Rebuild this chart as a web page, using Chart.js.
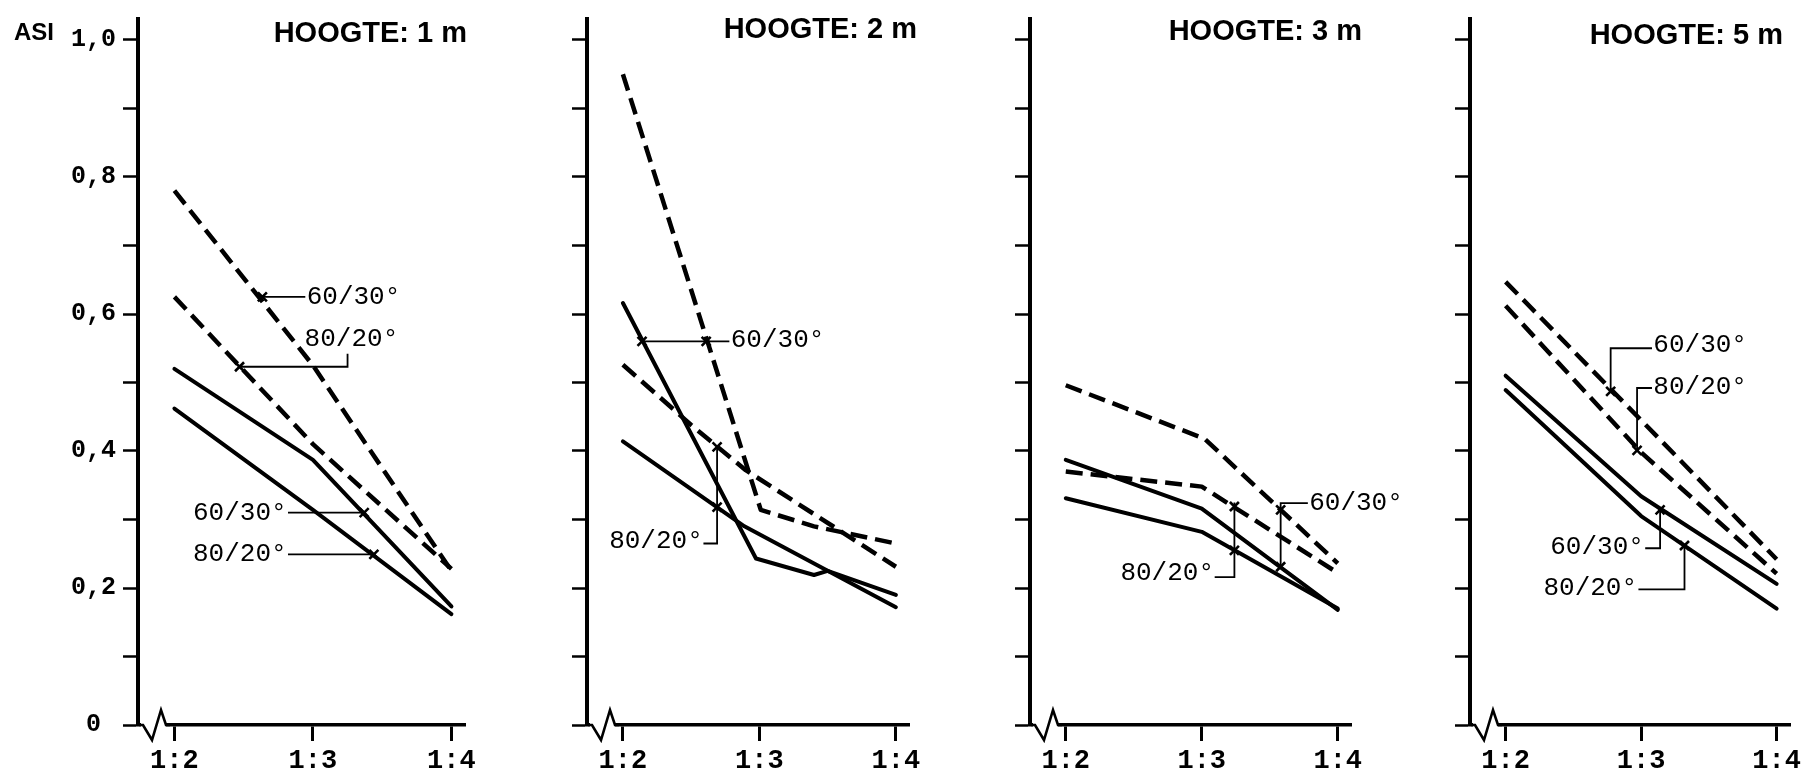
<!DOCTYPE html>
<html>
<head>
<meta charset="utf-8">
<script src="https://cdn.jsdelivr.net/npm/chart.js@4.4.1/dist/chart.umd.min.js"></script>
<style>
  html, body { margin: 0; padding: 0; background: #fff; overflow: hidden; width: 1804px; height: 776px; }
  #wrap { position: relative; width: 1804px; height: 776px; }
  #wrap canvas { position: absolute; top: 0; }
</style>
</head>
<body>
<div id="wrap"></div>
<script>
// --- gegevens (x: 2 = 1:2, 3 = 1:3, 4 = 1:4 ; y: ASI) ---
const ratioValues = [2, 3, 4];
const ratioLabels = ['1:2', '1:3', '1:4'];
const asiTicks = [0, 0.1, 0.2, 0.3, 0.4, 0.5, 0.6, 0.7, 0.8, 0.9, 1.0];
const asiLabelValues = [0, 0.2, 0.4, 0.6, 0.8, 1.0];
const asiLabels = ['0', '0,2', '0,4', '0,6', '0,8', '1,0'];
const heightTitles = ['HOOGTE: 1 m', 'HOOGTE: 2 m', 'HOOGTE: 3 m', 'HOOGTE: 5 m'];

// hoogte 1 m
const h1Dash6030 = [[2, 0.78], [3, 0.525], [4, 0.225]];
const h1Dash8020 = [[2, 0.625], [3, 0.41], [4, 0.228]];
const h1Solid6030 = [[2, 0.52], [3, 0.387], [4, 0.173]];
const h1Solid8020 = [[2, 0.462], [3, 0.314], [4, 0.162]];

// hoogte 2 m
const h2Dash6030 = [[2, 0.95], [2.91, 0.377], [3.01, 0.314], [3.4, 0.29], [4, 0.265]];
const h2Dash8020 = [[2, 0.526], [2.5, 0.438], [2.9, 0.372], [4, 0.231]];
const h2Solid6030 = [[2, 0.616], [2.975, 0.243], [3.4, 0.219], [3.5, 0.225], [4, 0.19]];
const h2Solid8020 = [[2, 0.414], [2.89, 0.29], [4, 0.172]];

// hoogte 3 m
const h3Dash6030 = [[2, 0.496], [3.02, 0.418], [4, 0.236]];
const h3Dash8020 = [[2, 0.37], [3, 0.348], [4, 0.222]];
const h3Solid6030 = [[2, 0.387], [3, 0.316], [4, 0.168]];
const h3Solid8020 = [[2, 0.331], [3, 0.282], [4, 0.17]];

// hoogte 5 m
const h5Dash6030 = [[2, 0.647], [3, 0.445], [4, 0.242]];
const h5Dash8020 = [[2, 0.612], [3, 0.398], [4, 0.221]];
const h5Solid6030 = [[2, 0.51], [3, 0.334], [4, 0.206]];
const h5Solid8020 = [[2, 0.489], [3, 0.305], [4, 0.17]];

// labels met verwijslijnen (in grafiekcoordinaten)
const h1Notes = [
  { text: '60/30°', at: [2.955, 0.625], align: 'left', path: [[2.635, 0.625], [2.945, 0.625]], marks: [[2.635, 0.625]] },
  { text: '80/20°', at: [2.94, 0.563], align: 'left', path: [[2.47, 0.523], [3.25, 0.523], [3.25, 0.542]], marks: [[2.47, 0.523]] },
  { text: '60/30°', at: [2.81, 0.31], align: 'right', path: [[2.82, 0.31], [3.37, 0.31]], marks: [[3.37, 0.31]] },
  { text: '80/20°', at: [2.81, 0.249], align: 'right', path: [[2.82, 0.249], [3.44, 0.249]], marks: [[3.44, 0.249]] }
];
const h2Notes = [
  { text: '60/30°', at: [2.79, 0.562], align: 'left', path: [[2.14, 0.56], [2.78, 0.56]], marks: [[2.14, 0.56], [2.61, 0.56]] },
  { text: '80/20°', at: [2.585, 0.268], align: 'right', path: [[2.59, 0.265], [2.69, 0.265], [2.69, 0.406]], marks: [[2.69, 0.318], [2.69, 0.406]] }
];
const h3Notes = [
  { text: '60/30°', at: [3.79, 0.324], align: 'left', path: [[3.58, 0.228], [3.58, 0.324], [3.78, 0.324]], marks: [[3.58, 0.314], [3.58, 0.231]] },
  { text: '80/20°', at: [3.09, 0.222], align: 'right', path: [[3.095, 0.216], [3.24, 0.216], [3.24, 0.325]], marks: [[3.24, 0.319], [3.24, 0.255]] }
];
const h5Notes = [
  { text: '60/30°', at: [3.09, 0.555], align: 'left', path: [[2.775, 0.487], [2.775, 0.55], [3.08, 0.55]], marks: [[2.775, 0.487]] },
  { text: '80/20°', at: [3.09, 0.494], align: 'left', path: [[2.97, 0.401], [2.97, 0.492], [3.08, 0.492]], marks: [[2.97, 0.401]] },
  { text: '60/30°', at: [3.02, 0.26], align: 'right', path: [[3.03, 0.258], [3.14, 0.258], [3.14, 0.314]], marks: [[3.14, 0.314]] },
  { text: '80/20°', at: [2.97, 0.2], align: 'right', path: [[2.98, 0.198], [3.32, 0.198], [3.32, 0.262]], marks: [[3.32, 0.262]] }
];

// --- opmaak ---
const MONO = '"Liberation Mono", "Courier New", monospace';
const SANS = '"Liberation Sans", Arial, sans-serif';
const xMin = 1.737, xMax = 4.1, yMax = 1.03;
const pxPerAsi = 685;
const axisBottom = 725;
const H = 776;

const panels = [
  { series: [h1Dash6030, h1Dash8020, h1Solid6030, h1Solid8020], notes: h1Notes, axisX: 138, unit: 138.5, yW: 138, extra: 30, titleRight: 467, titleBase: 42, first: true },
  { series: [h2Dash6030, h2Dash8020, h2Solid6030, h2Solid8020], notes: h2Notes, axisX: 587, unit: 136.5, yW: 40, extra: 30, titleRight: 917, titleBase: 38 },
  { series: [h3Dash6030, h3Dash8020, h3Solid6030, h3Solid8020], notes: h3Notes, axisX: 1030, unit: 136, yW: 40, extra: 70, titleRight: 1362, titleBase: 40 },
  { series: [h5Dash6030, h5Dash8020, h5Solid6030, h5Solid8020], notes: h5Notes, axisX: 1470, unit: 135.5, yW: 40, extra: 40, titleRight: 1783, titleBase: 44 }
];

function decorPlugin(p, idx, canvasLeft) {
  return {
    id: 'decor' + idx,
    afterDraw(chart) {
      const { ctx, chartArea: a, scales } = chart;
      const X = c => scales.x.getPixelForValue(c);
      const Y = v => scales.y.getPixelForValue(v);
      ctx.save();

      // asbreuk bij de oorsprong
      ctx.strokeStyle = '#fff';
      ctx.lineWidth = 6;
      ctx.beginPath();
      ctx.moveTo(a.left + 3, a.bottom);
      ctx.lineTo(a.left + 28, a.bottom);
      ctx.stroke();
      ctx.strokeStyle = '#000';
      ctx.lineWidth = 2.6;
      ctx.lineJoin = 'miter';
      ctx.beginPath();
      ctx.moveTo(a.left + 1, a.bottom);
      ctx.lineTo(a.left + 5, a.bottom);
      ctx.lineTo(a.left + 14, a.bottom + 15);
      ctx.lineTo(a.left + 23, a.bottom - 15);
      ctx.lineTo(a.left + 28, a.bottom);
      ctx.lineTo(a.left + 32, a.bottom);
      ctx.stroke();

      // verwijslijnen, kruisjes en labels
      p.notes.forEach(n => {
        ctx.lineWidth = 1.8;
        ctx.lineJoin = 'miter';
        ctx.beginPath();
        n.path.forEach(([c, v], k) => k ? ctx.lineTo(X(c), Y(v)) : ctx.moveTo(X(c), Y(v)));
        ctx.stroke();
        ctx.lineWidth = 2.6;
        n.marks.forEach(([c, v]) => {
          const px = X(c), py = Y(v), s = 4.5;
          ctx.beginPath();
          ctx.moveTo(px - s, py - s); ctx.lineTo(px + s, py + s);
          ctx.moveTo(px + s, py - s); ctx.lineTo(px - s, py + s);
          ctx.stroke();
        });
        ctx.fillStyle = '#000';
        ctx.font = '26px ' + MONO;
        ctx.textAlign = n.align;
        ctx.textBaseline = 'middle';
        ctx.fillText(n.text, X(n.at[0]), Y(n.at[1]));
      });

      // titel
      ctx.fillStyle = '#000';
      ctx.font = 'bold 29px ' + SANS;
      ctx.textAlign = 'right';
      ctx.textBaseline = 'alphabetic';
      ctx.fillText(heightTitles[idx], p.titleRight - canvasLeft, p.titleBase);
      if (p.first) {
        ctx.font = 'bold 24px ' + SANS;
        ctx.textAlign = 'left';
        ctx.fillText('ASI', 14, 40);
      }
      ctx.restore();
    }
  };
}

const wrap = document.getElementById('wrap');

panels.forEach((p, idx) => {
  const chartW = (xMax - xMin) * p.unit;
  const left = p.axisX - p.yW;
  const width = Math.min(Math.ceil(p.yW + chartW + p.extra), 1804 - left);
  const padRight = width - p.yW - chartW;
  const padTop = axisBottom - yMax * pxPerAsi;

  const canvas = document.createElement('canvas');
  canvas.width = width;
  canvas.height = H;
  canvas.style.left = left + 'px';
  canvas.style.width = width + 'px';
  canvas.style.height = H + 'px';
  wrap.appendChild(canvas);

  new Chart(canvas, {
    type: 'line',
    data: {
      datasets: p.series.map((pts, k) => {
        const dashed = k < 2;
        return {
          data: pts.map(([x, y]) => ({ x, y })),
          borderColor: '#000',
          borderWidth: dashed ? 4.5 : 4,
          borderDash: dashed ? [17, 8] : [],
          borderCapStyle: dashed ? 'butt' : 'round',
          borderJoinStyle: 'round',
          pointRadius: 0,
          tension: 0,
          fill: false
        };
      })
    },
    options: {
      responsive: false,
      animation: false,
      events: [],
      layout: { padding: { top: padTop, right: padRight, bottom: 0, left: 0 } },
      plugins: { legend: { display: false }, tooltip: { enabled: false }, title: { display: false } },
      scales: {
        x: {
          type: 'linear',
          min: xMin,
          max: xMax,
          afterBuildTicks: s => { s.ticks = ratioValues.map(v => ({ value: v })); },
          afterFit: s => { s.height = H - axisBottom; s.paddingLeft = 0; s.paddingRight = 0; },
          ticks: {
            callback: v => { const k = ratioValues.indexOf(v); return k >= 0 ? ratioLabels[k] : ''; },
            font: { family: MONO, size: 27, weight: 'bold' },
            color: '#000',
            padding: 4,
            maxRotation: 0,
            autoSkip: false
          },
          grid: { drawOnChartArea: false, drawTicks: true, tickLength: 16, tickWidth: 3, tickColor: '#000' },
          border: { display: true, color: '#000', width: 3.5 }
        },
        y: {
          type: 'linear',
          min: 0,
          max: yMax,
          afterBuildTicks: s => { s.ticks = asiTicks.map(v => ({ value: v })); },
          afterFit: s => { s.width = p.yW; s.paddingTop = 0; s.paddingBottom = 0; },
          ticks: {
            callback: v => {
              if (!p.first) return '';
              const k = asiLabelValues.findIndex(a => Math.abs(a - v) < 1e-6);
              return k >= 0 ? asiLabels[k] : '';
            },
            crossAlign: 'center',
            padding: 7,
            font: { family: MONO, size: 25, weight: 'bold' },
            color: '#000',
            autoSkip: false
          },
          grid: { drawOnChartArea: false, drawTicks: true, tickLength: 15, tickWidth: 2.5, tickColor: '#000' },
          border: { display: true, color: '#000', width: 4 }
        }
      }
    },
    plugins: [decorPlugin(p, idx, left)]
  });
});
</script>
</body>
</html>
